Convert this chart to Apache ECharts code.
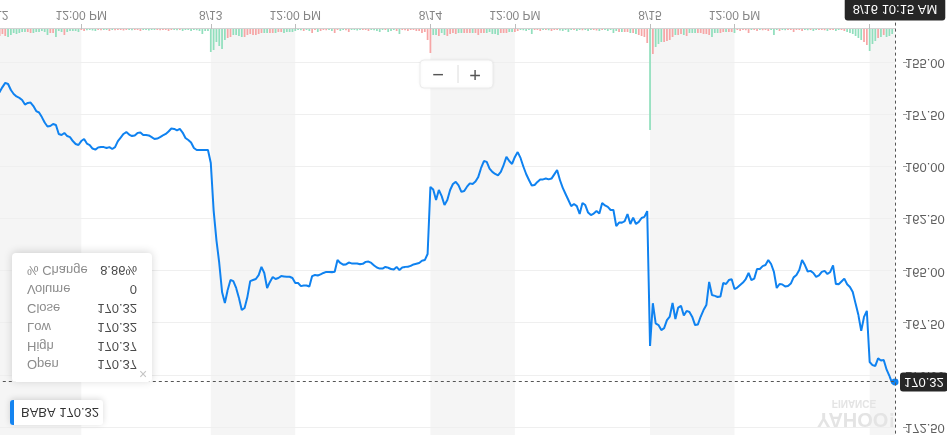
<!DOCTYPE html>
<html>
<head>
<meta charset="utf-8">
<script src="https://cdn.jsdelivr.net/npm/echarts@6/dist/echarts.min.js"></script>
<style>
html,body{margin:0;padding:0;background:#fff;}
#chart{width:947px;height:435px;transform:scaleY(-1);}
</style>
</head>
<body>
<div id="chart"></div>
<script>
// ---- data ----
const days = ['8/12', '8/13', '8/14', '8/15', '8/16'];
const dayBars = [76, 78, 78, 78, 10];
const priceTicks = [155.00, 157.50, 160.00, 162.50, 165.00, 167.50, 170.00, 172.50];
const symbolName = 'BABA';
const lastClose = 170.32;
const tooltipLabels = ['Open', 'High', 'Low', 'Close', 'Volume', '% Change'];
const tooltipValues = ['170.37', '170.37', '170.32', '170.32', '0', '8.86%'];

const price = [
156.60,156.41,156.17,155.97,156.02,156.31,156.50,156.62,156.69,156.79,
157.01,156.93,156.91,157.08,157.32,157.39,157.61,157.87,158.06,158.04,
157.94,157.99,158.42,158.47,158.37,158.52,158.57,158.76,158.90,158.95,
158.76,158.66,158.88,158.95,159.12,159.17,159.07,159.05,159.05,159.09,
159.05,159.14,159.05,158.76,158.59,158.42,158.33,158.45,158.52,158.49,
158.37,158.35,158.47,158.47,158.49,158.57,158.66,158.64,158.57,158.49,
158.42,158.30,158.16,158.18,158.25,158.18,158.35,158.61,158.71,158.83,
159.09,159.19,159.19,159.19,159.19,159.19,
159.81,162.07,163.51,164.61,166.00,166.53,165.91,165.43,165.48,165.81,
166.29,166.87,166.77,166.24,165.48,165.43,165.38,165.19,164.80,165.09,
165.81,165.52,165.28,165.38,165.33,165.24,165.26,165.27,165.27,165.33,
165.57,165.57,165.72,165.69,165.69,165.74,165.24,165.19,165.21,165.16,
165.09,165.04,165.04,165.06,165.03,164.47,164.61,164.69,164.68,164.59,
164.63,164.63,164.64,164.67,164.65,164.56,164.54,164.61,164.73,164.83,
164.88,164.88,164.80,164.84,164.90,164.92,164.80,164.95,164.83,164.80,
164.79,164.75,164.68,164.65,164.61,164.50,164.47,164.18,
160.96,161.08,161.59,161.11,161.40,161.83,161.59,161.11,160.82,160.72,
160.89,161.20,161.16,160.95,160.79,160.82,160.70,160.48,160.05,159.72,
159.76,160.08,160.24,160.34,160.41,160.24,159.91,159.52,159.72,159.86,
159.52,159.29,159.57,159.98,160.34,160.63,160.89,160.87,160.72,160.60,
160.60,160.56,160.60,160.56,160.36,160.15,160.63,161.01,161.30,161.59,
161.88,161.78,161.88,162.26,161.73,161.83,162.19,162.31,162.24,162.12,
162.24,161.73,161.85,161.92,162.07,162.07,162.84,162.67,162.68,162.60,
162.26,162.74,162.43,162.74,162.64,162.45,162.40,162.12,
168.59,166.54,167.51,167.59,167.83,167.74,167.35,167.18,166.53,167.30,
166.75,166.67,167.13,166.91,166.96,167.20,167.59,167.56,167.18,166.87,
166.63,165.52,166.15,166.19,166.24,166.22,165.57,165.62,165.43,165.39,
165.86,165.79,165.67,165.55,165.38,165.09,165.43,165.36,164.90,164.90,
164.76,164.71,164.47,164.66,165.04,165.81,165.62,165.64,165.74,165.72,
165.60,165.30,165.19,164.95,164.47,164.71,165.02,164.99,165.09,165.28,
165.21,165.04,164.99,165.14,165.04,164.73,165.62,165.63,165.50,165.36,
165.63,165.76,166.00,166.56,167.11,167.87,167.20,166.91,
169.36,169.51,169.55,169.19,169.29,169.27,169.72,170.03,170.38,170.32
];

// volume, thousands of shares
const volume = [
120,140,100,140,160,120,80,100,80,60,60,60,80,80,60,60,40,60,120,80,80,160,40,60,120,60,40,40,40,60,
20,40,25,20,30,40,20,25,20,20,40,20,25,20,20,30,20,20,25,20,20,40,20,20,30,20,20,20,25,20,20,40,20,20,25,20,40,20,20,40,20,25,40,100,40,40,
460,420,260,340,400,220,180,160,120,120,140,160,160,120,100,120,120,100,80,80,80,80,80,80,60,60,80,60,60,60,40,
20,25,40,20,40,80,20,60,40,20,25,20,40,80,20,40,20,25,60,20,20,30,20,20,20,40,20,25,40,60,20,20,60,40,20,40,100,20,25,40,20,20,40,40,80,60,220,
480,120,120,140,80,120,140,100,80,100,80,80,80,80,80,80,80,120,80,80,80,60,100,100,120,80,80,80,60,60,60,
40,20,25,40,20,100,20,20,40,20,20,25,40,20,20,30,40,20,60,20,20,40,20,25,20,40,20,20,30,40,20,20,40,20,80,40,60,60,60,60,80,80,100,120,140,160,280,
2020,500,360,300,260,260,240,220,160,120,120,100,120,140,80,80,80,80,80,100,100,120,160,80,80,80,60,60,60,60,80,
20,40,20,25,80,20,20,40,20,25,20,40,20,120,20,40,20,25,20,20,60,20,20,40,20,25,20,40,20,20,20,25,40,20,20,40,20,20,40,60,80,100,140,180,220,260,320,
440,300,240,180,160,120,160,140,100,0
];

// ---- categories (5-minute bars) ----
const categories = [];
days.forEach((d, k) => {
  for (let j = 0; j < dayBars[k]; j++) {
    const m = 570 + 5 * j;
    categories.push(d + ' ' + String(Math.floor(m / 60)).padStart(2, '0') + ':' + String(m % 60).padStart(2, '0'));
  }
});
const lastIdx = categories.length - 1;
const lastCat = categories[lastIdx];
function pointerText(c) {
  const [d, t] = c.split(' ');
  let [h, mi] = t.split(':').map(Number);
  const ap = h >= 12 ? 'PM' : 'AM';
  if (h > 12) h -= 12;
  return d + ' ' + h + ':' + String(mi).padStart(2, '0') + ' ' + ap;
}
const isMarked = (idx, val) => /(09:30|12:00)$/.test(val);
const isBandEdge = (idx, val) => isMarked(idx, val) || idx === lastIdx;

const VOL_MAX = 8120;
const GREEN = '#91dfbd', RED = '#f6a6a6';
const volData = volume.map((v, i) => ({
  value: v,
  itemStyle: { color: (i === 0 || price[i] >= price[i - 1]) ? GREEN : RED }
}));

const FONT = '"Liberation Sans", Arial, Helvetica, sans-serif';
const chart = echarts.init(document.getElementById('chart'), null, { renderer: 'canvas' });

const ZT = 100;
const overlay = [
  { type: 'rect', z: ZT, shape: { x: 12, y: 53, width: 140, height: 129, r: 4 },
    style: { fill: '#fff', shadowBlur: 8, shadowColor: 'rgba(0,0,0,0.16)', shadowOffsetY: 1 } },
  { type: 'text', z: ZT + 1, style: { text: '\u00d7', x: 143, y: 62, fill: '#c4c4c4', font: '14px ' + FONT, align: 'center', verticalAlign: 'middle' } }
];
tooltipLabels.forEach((l, k) => {
  const y = 71 + k * 18.8;
  overlay.push({ type: 'text', z: ZT + 1, style: { text: l, x: 27, y: y, fill: '#8c8c8c', font: '13px ' + FONT, align: 'left', verticalAlign: 'middle' } });
  overlay.push({ type: 'text', z: ZT + 1, style: { text: tooltipValues[k], x: 137, y: y, fill: '#4a4a4a', font: '13px ' + FONT, align: 'right', verticalAlign: 'middle' } });
});
overlay.push(
  { type: 'rect', z: ZT, shape: { x: 10, y: 10, width: 93, height: 25, r: 3 },
    style: { fill: '#fff', shadowBlur: 6, shadowColor: 'rgba(0,0,0,0.15)', shadowOffsetY: 1 } },
  { type: 'rect', z: ZT + 1, shape: { x: 10, y: 10, width: 4, height: 25, r: [3, 0, 0, 3] }, style: { fill: '#1584f0' } },
  { type: 'text', z: ZT + 1, style: { text: symbolName + ' ' + lastClose.toFixed(2), x: 21, y: 23, fill: '#333', font: '13px ' + FONT, align: 'left', verticalAlign: 'middle' } }
);
overlay.push(
  { type: 'rect', z: ZT, shape: { x: 420, y: 347, width: 73, height: 28, r: 4 },
    style: { fill: '#fff', stroke: '#ececec', lineWidth: 1, shadowBlur: 3, shadowColor: 'rgba(0,0,0,0.06)' } },
  { type: 'line', z: ZT + 1, shape: { x1: 458, y1: 352, x2: 458, y2: 370 }, style: { stroke: '#dcdcdc', lineWidth: 1 } },
  { type: 'text', z: ZT + 1, style: { text: '\u2212', x: 438, y: 361, fill: '#555', font: '20px ' + FONT, align: 'center', verticalAlign: 'middle' } },
  { type: 'text', z: ZT + 1, style: { text: '+', x: 475, y: 361, fill: '#555', font: '20px ' + FONT, align: 'center', verticalAlign: 'middle' } }
);
overlay.push(
  { type: 'text', z: 1.2, style: { text: 'YAHOO!', x: 856, y: 16, fill: '#e4e4e4', font: 'bold 20px ' + FONT, align: 'center', verticalAlign: 'middle' } },
  { type: 'text', z: 1.2, style: { text: 'FINANCE', x: 854, y: 32, fill: '#e4e4e4', font: 'bold 10px ' + FONT, align: 'center', verticalAlign: 'middle' } }
);

const option = {
  animation: false,
  textStyle: { fontFamily: FONT },
  grid: [
    { left: -3.2, right: 52, top: -44.5, bottom: 10.6, containLabel: false, outerBoundsMode: 'none' },
    { left: -3.2, right: 52, top: 0, bottom: 29, containLabel: false, outerBoundsMode: 'none' }
  ],
  xAxis: [
    { type: 'category', gridIndex: 0, data: categories, boundaryGap: false, show: false },
    { type: 'category', gridIndex: 1, data: categories, boundaryGap: false,
      axisLine: { lineStyle: { color: '#d2d2d2', width: 1 } },
      axisTick: { interval: isMarked, length: 5, lineStyle: { color: '#bdbdbd' } },
      axisLabel: { interval: isMarked, margin: 9, fontSize: 12, color: '#858585', fontFamily: FONT, hideOverlap: false,
        formatter: v => v.endsWith('09:30') ? v.split(' ')[0] : '12:00 PM' },
      splitLine: { show: false },
      splitArea: { show: true, interval: isBandEdge, areaStyle: { color: ['#f5f5f5', 'rgba(255,255,255,0)'] } }
    }
  ],
  yAxis: [
    { type: 'value', gridIndex: 0, position: 'right', offset: 8, z: 1.5,
      min: 152.5, max: 175, interval: 2.5,
      axisLine: { show: false },
      axisTick: { show: true, length: 4, lineStyle: { color: '#9a9a9a' } },
      axisLabel: { margin: 2, fontSize: 13, color: '#5e5e5e', fontFamily: FONT, showMinLabel: false, showMaxLabel: false,
        formatter: v => v.toFixed(2) },
      splitLine: { show: true, showMinLine: false, showMaxLine: false, lineStyle: { color: '#efefef', width: 1 } }
    },
    { type: 'value', gridIndex: 1, min: 0, max: VOL_MAX, show: false, splitLine: { show: false } }
  ],
  graphic: overlay,
  series: [
    { type: 'bar', xAxisIndex: 1, yAxisIndex: 1, data: volData, barWidth: '62%', silent: true },
    { type: 'line', xAxisIndex: 0, yAxisIndex: 0, data: price, showSymbol: false, symbol: 'none', z: 3,
      lineStyle: { color: '#0f82f0', width: 2 }, itemStyle: { color: '#0f82f0' },
      markPoint: { silent: true, symbol: 'circle', symbolSize: 7, itemStyle: { color: '#0f82f0' }, label: { show: false },
        data: [{ coord: [lastIdx, lastClose] }] },
      markLine: {
        silent: true, symbol: ['none', 'none'], z: 6,
        lineStyle: { color: '#555', width: 1, type: [3, 3] },
        data: [
          { xAxis: lastIdx, label: { show: true, position: 'start', distance: -10, formatter: pointerText(lastCat),
              color: '#fff', backgroundColor: '#262626', borderRadius: 3, padding: [6, 8, 4, 8], fontSize: 13, fontFamily: FONT } },
          { yAxis: lastClose, label: { show: true, position: 'end', distance: 5, formatter: lastClose.toFixed(2),
              color: '#fff', backgroundColor: '#262626', borderRadius: 3, padding: [3, 4, 3, 4], fontSize: 13, fontFamily: FONT } }
        ]
      }
    }
  ]
};
chart.setOption(option);
</script>
</body>
</html>
